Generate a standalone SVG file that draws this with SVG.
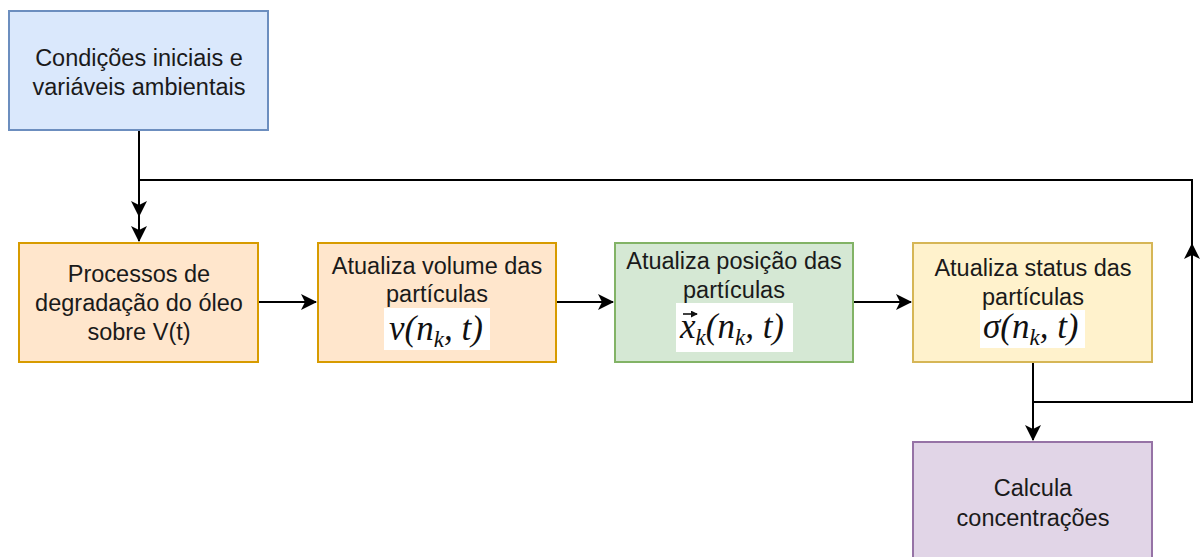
<svg xmlns="http://www.w3.org/2000/svg" width="1200" height="557" viewBox="0 0 1200 557">
  <style>
    .box { stroke-width: 2; }
    .lbl { font-family: "Liberation Sans", Arial, sans-serif; font-size: 23.5px; fill: #1a1a1a; text-anchor: middle; }
    .math { font-family: "Liberation Serif", "DejaVu Serif", serif; font-style: italic; font-size: 35px; fill: #111; }
    .sub { font-size: 23px; }
    .edge { fill: none; stroke: #000; stroke-width: 2; }
  </style>
  <defs>
    <marker id="arrow" viewBox="0 0 16 16" refX="15" refY="8" markerWidth="16" markerHeight="16" markerUnits="userSpaceOnUse" orient="auto">
      <path d="M0,0 L16,8 L0,16 L4,8 Z" fill="#000"/>
    </marker>
    <marker id="vec" viewBox="0 0 8 8" refX="7" refY="4" markerWidth="7" markerHeight="7" markerUnits="userSpaceOnUse" orient="auto">
      <path d="M0,0 L8,4 L0,8 Z" fill="#111"/>
    </marker>
  </defs>
  <rect width="1200" height="557" fill="#fff"/>

  <g id="connectors">
    <path class="edge" d="M139,130 V241" marker-end="url(#arrow)"/>
    <path class="edge" d="M1033,402 H1192 V180 H139 V216" marker-end="url(#arrow)"/>
    <path class="edge" d="M1192,270 V244" marker-end="url(#arrow)"/>
    <path class="edge" d="M258,302 H316" marker-end="url(#arrow)"/>
    <path class="edge" d="M556,302 H613" marker-end="url(#arrow)"/>
    <path class="edge" d="M853,302 H911" marker-end="url(#arrow)"/>
    <path class="edge" d="M1033,362 V440" marker-end="url(#arrow)"/>
  </g>

  <g id="n-init">
    <rect class="box" x="9" y="11" width="259" height="119" fill="#dae8fc" stroke="#6c8ebf"/>
    <text class="lbl" x="139" y="66">Condições iniciais e</text>
    <text class="lbl" x="139" y="95">variáveis ambientais</text>
  </g>

  <g id="n-degradacao">
    <rect class="box" x="19" y="243" width="239" height="119" fill="#ffe6cc" stroke="#d79b00"/>
    <text class="lbl" x="139" y="282">Processos de</text>
    <text class="lbl" x="139" y="311">degradação do óleo</text>
    <text class="lbl" x="139" y="340">sobre V(t)</text>
  </g>

  <g id="n-volume">
    <rect class="box" x="318" y="243" width="238" height="119" fill="#ffe6cc" stroke="#d79b00"/>
    <text class="lbl" x="437" y="274">Atualiza volume das</text>
    <text class="lbl" x="437" y="302">partículas</text>
    <rect x="384" y="308" width="106" height="42" fill="#fff"/>
    <text class="math" x="389" y="340">v(n<tspan class="sub" dy="7">k</tspan><tspan dy="-7">, t)</tspan></text>
  </g>

  <g id="n-posicao">
    <rect class="box" x="615" y="243" width="238" height="119" fill="#d5e8d4" stroke="#82b366"/>
    <text class="lbl" x="734" y="269">Atualiza posição das</text>
    <text class="lbl" x="734" y="298">partículas</text>
    <rect x="676" y="303" width="117" height="49" fill="#fff"/>
    <path d="M683,314 H697" stroke="#111" stroke-width="1.6" marker-end="url(#vec)"/>
    <text class="math" x="680" y="338">x<tspan class="sub" dy="7">k</tspan><tspan dy="-7">(n</tspan><tspan class="sub" dy="7">k</tspan><tspan dy="-7">, t)</tspan></text>
  </g>

  <g id="n-status">
    <rect class="box" x="913" y="243" width="239" height="119" fill="#fff2cc" stroke="#d6b656"/>
    <text class="lbl" x="1033" y="276">Atualiza status das</text>
    <text class="lbl" x="1033" y="305">partículas</text>
    <rect x="980" y="310" width="105" height="38" fill="#fff"/>
    <text class="math" x="983" y="338">σ(n<tspan class="sub" dy="7">k</tspan><tspan dy="-7">, t)</tspan></text>
  </g>

  <g id="n-concentracoes">
    <rect class="box" x="913" y="442" width="239" height="125" fill="#e1d5e7" stroke="#9673a6"/>
    <text class="lbl" x="1033" y="496">Calcula</text>
    <text class="lbl" x="1033" y="526">concentrações</text>
  </g>
</svg>
